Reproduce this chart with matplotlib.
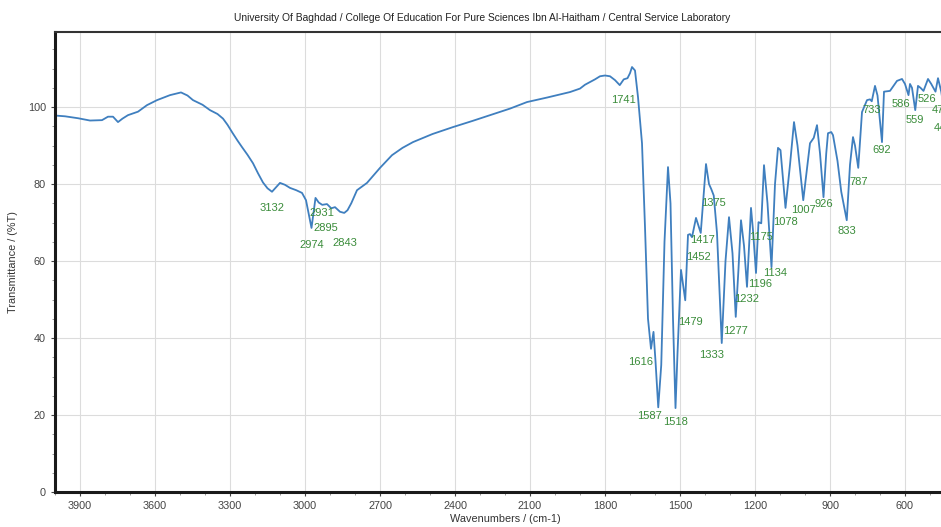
import numpy as np
import matplotlib
matplotlib.use("Agg")
import matplotlib.pyplot as plt
from matplotlib.ticker import MultipleLocator

plt.rcParams['font.family'] = ['Liberation Sans', 'DejaVu Sans']

# IR spectrum, wavenumber (cm-1) vs transmittance (%T)
wavenumber = [4000, 3960, 3908, 3860, 3812, 3788, 3768, 3748, 3730, 3708,
              3668, 3632, 3592, 3540, 3496, 3470, 3448, 3410, 3380, 3350,
              3328, 3310, 3290, 3270, 3252, 3230, 3208, 3188, 3168, 3150,
              3132, 3115, 3100, 3080, 3060, 3035, 3012, 2996, 2974, 2958,
              2945, 2931, 2912, 2895, 2880, 2860, 2843, 2830, 2815, 2792,
              2752, 2700, 2652, 2610, 2568, 2490, 2408, 2330, 2260, 2180,
              2112, 2030, 1940, 1900, 1880, 1860, 1840, 1820, 1800, 1780,
              1760, 1741, 1725, 1710, 1700, 1692, 1680, 1668, 1652, 1640,
              1628, 1616, 1606, 1598, 1587, 1575, 1562, 1548, 1538, 1528,
              1518, 1510, 1496, 1479, 1468, 1460, 1452, 1436, 1417, 1396,
              1384, 1375, 1365, 1352, 1333, 1318, 1304, 1290, 1277, 1266,
              1256, 1244, 1232, 1216, 1208, 1196, 1186, 1175, 1164, 1150,
              1134, 1120, 1108, 1098, 1078, 1060, 1044, 1030, 1007, 990,
              980, 965, 952, 940, 926, 915, 908, 895, 888, 870,
              855, 833, 820, 808, 800, 787, 772, 752, 740, 733,
              720, 710, 692, 684, 660, 632, 612, 600, 586, 580,
              572, 559, 548, 538, 526, 508, 495, 478, 468, 455,
              447, 430, 400]
transmittance = [97.8, 97.6, 97.1, 96.5, 96.6, 97.5, 97.5, 96.1, 97.0, 97.9,
                 98.8, 100.5, 101.8, 103.1, 103.8, 103.0, 101.8, 100.6, 99.2, 98.2,
                 97.0, 95.4, 93.3, 91.3, 89.6, 87.6, 85.4, 82.8, 80.4, 78.9,
                 78.0, 79.2, 80.3, 79.8, 79.0, 78.4, 77.7, 75.8, 68.6, 76.4,
                 75.2, 74.6, 74.8, 73.7, 74.0, 72.8, 72.5, 73.2, 75.0, 78.4,
                 80.3, 84.2, 87.5, 89.4, 90.9, 93.0, 94.8, 96.4, 97.9, 99.6,
                 101.3, 102.5, 103.9, 104.8, 105.8, 106.5, 107.2, 108.0, 108.2, 108.0,
                 107.0, 105.7, 107.2, 107.5, 108.8, 110.4, 109.5, 102.6, 90.6, 68.8,
                 45.0, 37.2, 41.6, 34.0, 22.0, 33.0, 65.0, 84.4, 75.0, 45.0,
                 21.8, 36.0, 57.7, 49.8, 66.8, 67.0, 66.2, 71.2, 67.3, 85.2,
                 80.0, 78.7, 77.0, 67.3, 38.7, 60.0, 71.4, 62.0, 45.5, 58.0,
                 70.6, 64.0, 53.3, 73.8, 68.0, 56.9, 70.1, 69.8, 84.9, 75.0,
                 58.4, 80.0, 89.4, 88.8, 73.8, 85.0, 96.1, 90.0, 75.8, 85.0,
                 90.6, 92.0, 95.3, 88.0, 76.6, 88.0, 93.2, 93.5, 92.7, 86.0,
                 78.0, 70.6, 85.0, 92.2, 90.0, 84.2, 98.7, 101.8, 102.0, 101.5,
                 105.5, 103.0, 90.9, 104.0, 104.2, 106.8, 107.3, 106.0, 103.1, 106.0,
                 105.0, 99.2, 105.5, 105.0, 104.2, 107.3, 106.0, 104.0, 107.5, 104.0,
                 100.5, 106.0, 105.0]

# labelled band positions and where their text sits (pixel offset from the band)
peak_labels = [3132, 2974, 2931, 2895, 2843, 1741, 1616, 1587, 1518, 1479,
               1452, 1417, 1375, 1333, 1277, 1232, 1196, 1175, 1134, 1078,
               1007, 926, 833, 787, 733, 692, 586, 559, 526, 478, 447]
label_offsets = {3132: (0, -16), 2974: (0, -17), 2931: (0, -8), 2895: (-5, -20),
                 2843: (1, -30), 1741: (4, -15), 1616: (-10, -13), 1587: (-9, -9),
                 1518: (0, -14), 1479: (5, -22), 1452: (6, -20), 1417: (2, -7),
                 1375: (2, -14), 1333: (-10, -12), 1277: (0, -14), 1232: (0, -12),
                 1196: (4, -11), 1175: (0, -14), 1134: (4, -6), 1078: (0, -14),
                 1007: (0, -10), 926: (0, -7), 833: (0, -11), 787: (0, -14),
                 733: (0, -9), 692: (0, -8), 586: (-8, -9), 559: (0, -10),
                 526: (3, -8), 478: (6, -18), 447: (0, -23)}

fig = plt.figure(figsize=(9.41, 5.27), dpi=100)
ax = fig.add_axes([55 / 941, 35 / 527, 900 / 941, 460 / 527])

ax.plot(wavenumber, transmittance, color='#3f7fbf', lw=1.3)

green = '#3a8c3a'
for wn in peak_labels:
    t = np.interp(wn, wavenumber[::-1], transmittance[::-1])
    dx, dy = label_offsets[wn]
    ax.annotate(str(wn), (wn, t), xytext=(dx, dy), textcoords='offset pixels',
                ha='center', va='center', fontsize=8, color=green,
                annotation_clip=False, clip_on=False)

ax.set_xlim(4000, 400)
ax.set_ylim(0, 119.5)
ax.xaxis.set_minor_locator(MultipleLocator(100))
ax.set_xticks(np.arange(3900, 500, -300))
ax.set_yticks([0, 20, 40, 60, 80, 100])
ax.yaxis.set_minor_locator(MultipleLocator(5))
ax.grid(True, which='major', color='#dcdcdc', lw=0.8)
ax.set_axisbelow(True)

ax.tick_params(axis='both', which='major', labelsize=7.8, colors='#444444',
               length=3, direction='out')
ax.tick_params(axis='both', which='minor', length=2, color='#888888')
for side in ('left', 'bottom'):
    ax.spines[side].set_linewidth(2.2)
    ax.spines[side].set_color('#1a1a1a')
ax.spines['top'].set_linewidth(1.5)
ax.spines['top'].set_color('#333333')
ax.spines['right'].set_visible(False)

ax.set_xlabel('Wavenumbers / (cm-1)', fontsize=7.8, color='#333333', labelpad=2)
ax.set_ylabel('Transmittance / (%T)', fontsize=7.8, color='#333333', labelpad=7)
fig.text(482 / 941, 1 - 18 / 527,
         'University Of Baghdad / College Of Education For Pure Sciences Ibn Al-Haitham / Central Service Laboratory',
         ha='center', va='center', fontsize=7.4, color='#222222')

fig.savefig('out.png', dpi=100)
